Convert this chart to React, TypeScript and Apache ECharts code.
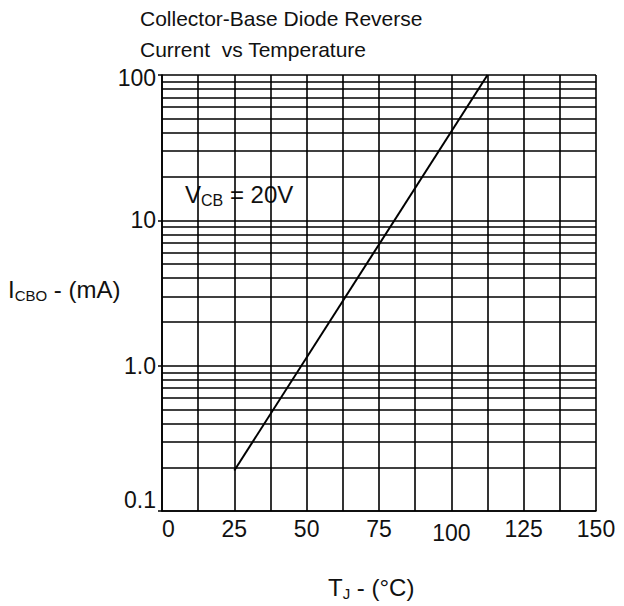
import React, { useEffect, useRef } from "react";
import * as echarts from "echarts";

const titleLines = ["Collector-Base Diode Reverse", "Current  vs Temperature"];
const xTicks = [0, 25, 50, 75, 100, 125, 150];
const yTickLabels: Record<string, string> = { "0.1": "0.1", "1": "1.0", "10": "10", "100": "100" };
const minorGridValues = [
  0.2, 0.3, 0.4, 0.5, 0.6, 0.7, 0.8, 0.9,
  2, 3, 4, 5, 6, 7, 8, 9,
  20, 30, 40, 50, 60, 70, 80, 90,
];
const seriesTemp = [25, 112.5];
const seriesCurrent = [0.19, 100];

const FONT = "'Liberation Sans', Arial, Helvetica, sans-serif";
const INK = "#111111";

export default function App() {
  const ref = useRef<HTMLDivElement>(null);
  useEffect(() => {
    if (!ref.current) return;
    const chart = echarts.init(ref.current, undefined, { renderer: "svg" });
    const gridLine = { color: "#000", width: 1.6 };
    const sub = (size: number) => ({ fontSize: size, fontFamily: FONT, fill: INK, verticalAlign: "bottom", padding: [0, 0, -2, 0] });
    const main = (size: number) => ({ fontSize: size, fontFamily: FONT, fill: INK, verticalAlign: "bottom" });
    chart.setOption({
      animation: false,
      backgroundColor: "#fff",
      textStyle: { fontFamily: FONT },
      grid: { left: 162, right: 28, top: 75, bottom: 95, containLabel: false },
      xAxis: {
        type: "value",
        min: xTicks[0],
        max: xTicks[xTicks.length - 1],
        interval: 25,
        axisLine: { show: true, lineStyle: { color: "#000", width: 1.6 } },
        axisTick: { show: false },
        splitLine: { show: true, lineStyle: gridLine },
        minorTick: { show: false, splitNumber: 2 },
        minorSplitLine: { show: true, lineStyle: gridLine },
        axisLabel: {
          color: INK,
          fontSize: 23,
          fontFamily: FONT,
          margin: 6,
          alignMinLabel: "left",
          formatter: (v: number) => (v === 100 ? "{low|100}" : String(v)),
          rich: { low: { fontSize: 23, fontFamily: FONT, color: INK, padding: [4, 0, 0, 0] } },
        },
      },
      yAxis: {
        type: "log",
        logBase: 10,
        min: 0.1,
        max: 100,
        axisLine: { show: true, lineStyle: { color: "#000", width: 1.6 } },
        axisTick: { show: true, length: 4, lineStyle: { color: "#000", width: 1.5 } },
        splitLine: { show: true, lineStyle: gridLine },
        axisLabel: {
          color: INK,
          fontSize: 23,
          fontFamily: FONT,
          margin: 6,
          verticalAlignMinLabel: "bottom",
          formatter: (v: number) => {
            const t = yTickLabels[String(Number(v.toPrecision(3)))] ?? String(v);
            return t === "100" ? "{top|100}" : t;
          },
          rich: { top: { fontSize: 23, fontFamily: FONT, color: INK, padding: [6, 0, 0, 0] } },
        },
      },
      series: [
        {
          type: "line",
          data: seriesTemp.map((t, i) => [t, seriesCurrent[i]]),
          showSymbol: false,
          symbol: "none",
          lineStyle: { color: "#000", width: 2 },
          silent: true,
          markLine: {
            silent: true,
            symbol: ["none", "none"],
            label: { show: false },
            lineStyle: { color: "#000", width: 1.6, type: "solid" },
            data: minorGridValues.map((v) => ({ yAxis: v })),
          },
        },
      ],
      graphic: [
        {
          type: "text",
          left: 140,
          top: 3,
          style: {
            text: titleLines.join("\n"),
            font: `21px ${FONT}`,
            fill: INK,
            lineHeight: 31,
          },
        },
        {
          type: "text",
          left: 185,
          top: 182,
          style: {
            text: "{m|V}{s|CB}{m| = 20V}",
            fill: INK,
            rich: { m: main(24), s: sub(16) },
          },
        },
        {
          type: "text",
          left: 8,
          top: 277,
          style: {
            text: "{m|I}{s|CBO}{m| - (mA)}",
            fill: INK,
            rich: { m: main(24), s: sub(15) },
          },
        },
        {
          type: "text",
          left: 328,
          top: 575,
          style: {
            text: "{m|T}{s|J}{m| - (°C)}",
            fill: INK,
            rich: { m: main(24), s: sub(15) },
          },
        },
      ],
    });
    return () => chart.dispose();
  }, []);
  return <div ref={ref} style={{ width: 624, height: 606, position: "absolute", left: 0, top: 0 }} />;
}
